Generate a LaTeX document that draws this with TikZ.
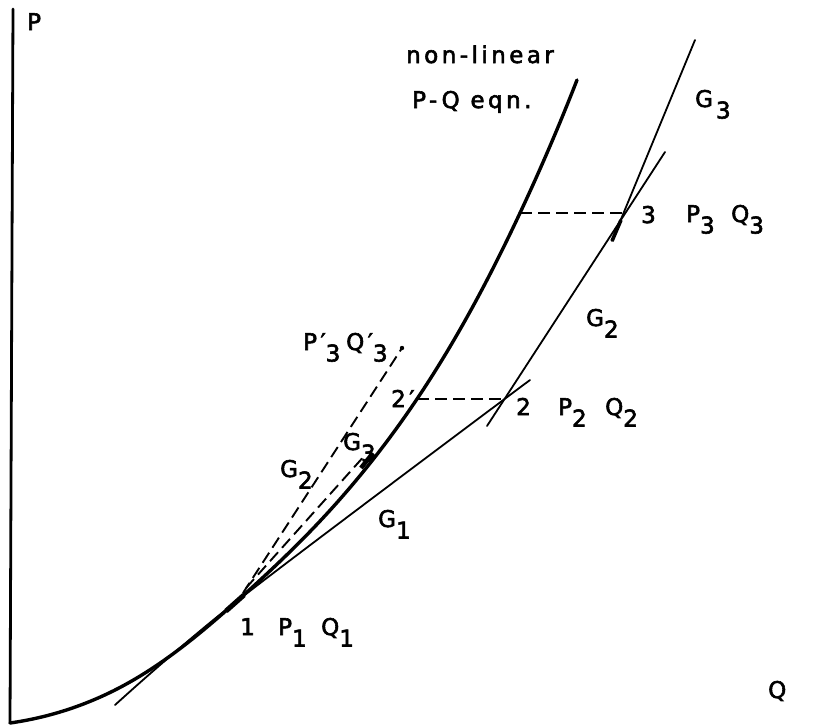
\documentclass[tikz,border=0pt]{standalone}
\usepackage{fontspec}
\setmainfont{DejaVu Sans}[LetterSpace=15,FakeBold=2.5]
\usetikzlibrary{hobby}
\newcommand\lo[1]{\raisebox{-0.5em}{#1}}
\begin{document}
\begin{tikzpicture}[x=1pt,y=-1pt,
  lbl/.style={anchor=base west, inner sep=0pt, font=\fontsize{23}{27}\selectfont},
  axisline/.style={line width=2.8pt, line cap=round},
  curveline/.style={line width=3.4pt, line cap=round},
  thinline/.style={line width=1.8pt, line cap=round},
  dashline/.style={line width=1.9pt, dash pattern=on 12pt off 6pt}]
\useasboundingbox (0,0) rectangle (814,726);
% key points
\coordinate (ptop) at (13,9);
\coordinate (pbot) at (10,723);
\coordinate (o1) at (237,601);
\coordinate (o2) at (503,399);
\coordinate (o3) at (624,213);
\coordinate (c2) at (417,399);
\coordinate (c3) at (520,213);
\coordinate (g1a) at (115,705);
\coordinate (g1b) at (530,380);
\coordinate (g2a) at (487,426);
\coordinate (g2b) at (665,152);
\coordinate (g3a) at (612,241);
\coordinate (g3b) at (695,40);
\coordinate (d2s) at (243,593);
\coordinate (d2e) at (402,348);
\coordinate (d3s) at (246,588);
\coordinate (d3e) at (366,454);
% axis
\draw[axisline] (ptop) -- (pbot);
% non-linear curve
\draw[curveline, use Hobby shortcut] (10,723) .. (117,689) .. (237,601) .. (322,519) .. (417,399) .. (520,213) .. (577,80);
\draw[line width=5pt] (226,611) -- (244,595);
\draw[line width=4.5pt] (361,468) -- (373,453);
% tangents
\draw[thinline] plot[smooth] coordinates {(g1a) (o1) (g1b)};
\draw[thinline] (g2a) -- (g2b);
\draw[thinline] (g3a) -- (g3b);
\draw[line width=3.6pt] (g3a) -- (621,220);
% dashed
\draw[dashline] (c2) -- (o2);
\draw[dashline] (c3) -- (o3);
\draw[dashline] (d2s) -- (d2e);
\draw[dashline] (d3s) -- (d3e);
\fill (d2e) circle (2.2pt);
% labels
\node[lbl] (lP) at (27,30) {P};
\node[lbl] (lQ) at (768,698) {Q};
\node[lbl] (nl) at (406,63) {non-linear};
\node[lbl] (pq) at (412,108) {P-Q eqn.};
\node[lbl] (g3t) at (695,107) {G\hspace{3pt}\lo{3}};
\node[lbl] (n3) at (641,223) {3};
\node[lbl] (p3) at (686,222) {P\lo{3}};
\node[lbl] (q3) at (731,222) {Q\lo{3}};
\node[lbl] (g2r) at (586,326) {G\lo{2}};
\node[lbl] (n2) at (516,415) {2};
\node[lbl] (p2) at (558,415) {P\lo{2}};
\node[lbl] (q2) at (605,415) {Q\lo{2}};
\node[lbl] (n2p) at (391,407) {2′};
\node[lbl] (p3p) at (303,350) {P′\lo{3}};
\node[lbl] (q3p) at (346,350) {Q′\lo{3}};
\node[lbl] (g3m) at (343,450) {G\lo{3}};
\node[lbl] (g2l) at (280,477) {G\lo{2}};
\node[lbl] (g1) at (378,527) {G\lo{1}};
\node[lbl] (n1) at (240,635) {1};
\node[lbl] (p1) at (278,635) {P\lo{1}};
\node[lbl] (q1) at (321,635) {Q\lo{1}};
\end{tikzpicture}
\end{document}
